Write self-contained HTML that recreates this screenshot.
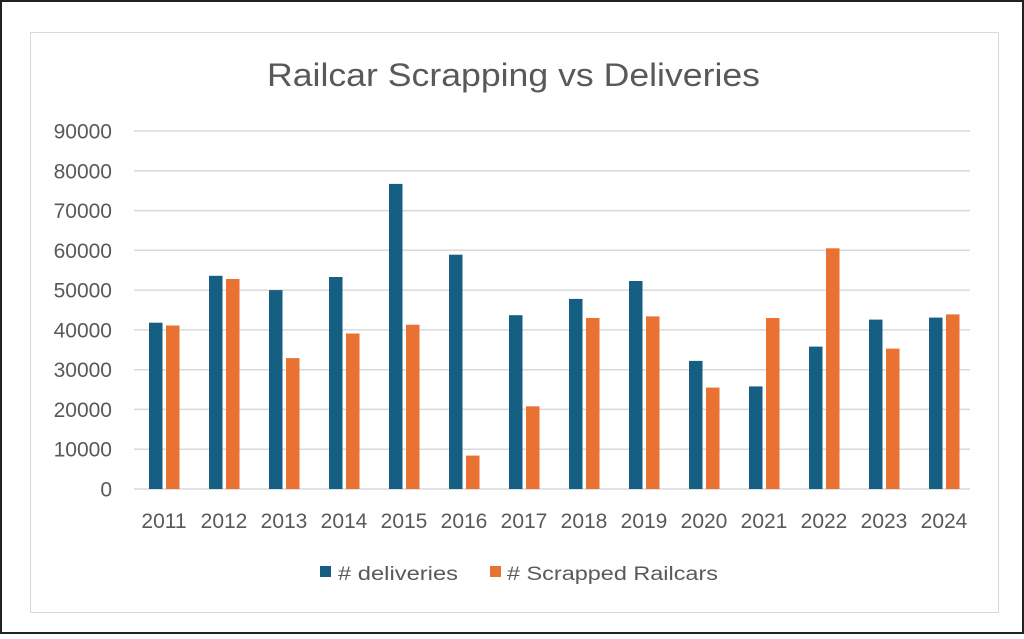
<!DOCTYPE html>
<html><head><meta charset="utf-8"><style>
body{margin:0;background:#fff}
</style></head><body>
<svg width="1024" height="634" xmlns="http://www.w3.org/2000/svg" font-family="Liberation Sans, sans-serif">
<rect x="1" y="1" width="1022" height="632" fill="#fff" stroke="#222" stroke-width="2"/>
<rect x="30.5" y="32.5" width="968" height="580" fill="#fff" stroke="#d9d9d9" stroke-width="1"/>
<text x="267" y="86" font-size="32" fill="#595959" textLength="493" lengthAdjust="spacingAndGlyphs">Railcar Scrapping vs Deliveries</text>
<g stroke="#d9d9d9" stroke-width="1.5">
<line x1="134" x2="970" y1="489" y2="489"/>
<line x1="134" x2="970" y1="449.2" y2="449.2"/>
<line x1="134" x2="970" y1="409.4" y2="409.4"/>
<line x1="134" x2="970" y1="369.7" y2="369.7"/>
<line x1="134" x2="970" y1="329.9" y2="329.9"/>
<line x1="134" x2="970" y1="290.1" y2="290.1"/>
<line x1="134" x2="970" y1="250.3" y2="250.3"/>
<line x1="134" x2="970" y1="210.6" y2="210.6"/>
<line x1="134" x2="970" y1="170.8" y2="170.8"/>
<line x1="134" x2="970" y1="131" y2="131"/>
</g>
<g font-size="21" fill="#595959" text-anchor="end">
<text x="112" y="496.5">0</text>
<text x="112" y="456.7">10000</text>
<text x="112" y="416.9">20000</text>
<text x="112" y="377.2">30000</text>
<text x="112" y="337.4">40000</text>
<text x="112" y="297.6">50000</text>
<text x="112" y="257.8">60000</text>
<text x="112" y="218.1">70000</text>
<text x="112" y="178.3">80000</text>
<text x="112" y="138.5">90000</text>
</g>
<g fill="#156082">
<rect x="149" y="322.7" width="13.5" height="166.3"/>
<rect x="209" y="275.8" width="13.5" height="213.2"/>
<rect x="269" y="290.1" width="13.5" height="198.9"/>
<rect x="329" y="277" width="13.5" height="212"/>
<rect x="389" y="183.9" width="13.5" height="305.1"/>
<rect x="449" y="254.7" width="13.5" height="234.3"/>
<rect x="509" y="315.2" width="13.5" height="173.8"/>
<rect x="569" y="298.9" width="13.5" height="190.1"/>
<rect x="629" y="281" width="13.5" height="208"/>
<rect x="689" y="360.9" width="13.5" height="128.1"/>
<rect x="749" y="386.4" width="13.5" height="102.6"/>
<rect x="809" y="346.6" width="13.5" height="142.4"/>
<rect x="869" y="319.6" width="13.5" height="169.4"/>
<rect x="929" y="317.6" width="13.5" height="171.4"/>
</g>
<g fill="#E97132">
<rect x="166" y="325.5" width="13.5" height="163.5"/>
<rect x="226" y="279" width="13.5" height="210"/>
<rect x="286" y="358.1" width="13.5" height="130.9"/>
<rect x="346" y="333.5" width="13.5" height="155.5"/>
<rect x="406" y="324.7" width="13.5" height="164.3"/>
<rect x="466" y="455.6" width="13.5" height="33.4"/>
<rect x="526" y="406.3" width="13.5" height="82.7"/>
<rect x="586" y="318" width="13.5" height="171"/>
<rect x="646" y="316.4" width="13.5" height="172.6"/>
<rect x="706" y="387.6" width="13.5" height="101.4"/>
<rect x="766" y="318" width="13.5" height="171"/>
<rect x="826" y="248.3" width="13.5" height="240.7"/>
<rect x="886" y="348.6" width="13.5" height="140.4"/>
<rect x="946" y="314.4" width="13.5" height="174.6"/>
</g>
<g font-size="21" fill="#595959" text-anchor="middle">
<text x="164" y="528">2011</text><text x="224" y="528">2012</text><text x="284" y="528">2013</text>
<text x="344" y="528">2014</text><text x="404" y="528">2015</text><text x="464" y="528">2016</text>
<text x="524" y="528">2017</text><text x="584" y="528">2018</text><text x="644" y="528">2019</text>
<text x="704" y="528">2020</text><text x="764" y="528">2021</text><text x="824" y="528">2022</text>
<text x="884" y="528">2023</text><text x="944" y="528">2024</text>
</g>
<rect x="320" y="566" width="11" height="11" fill="#156082"/>
<text x="338" y="580" font-size="19" fill="#595959" textLength="120" lengthAdjust="spacingAndGlyphs"># deliveries</text>
<rect x="490" y="566" width="11" height="11" fill="#E97132"/>
<text x="507" y="580" font-size="19" fill="#595959" textLength="211" lengthAdjust="spacingAndGlyphs"># Scrapped Railcars</text>
</svg>
</body></html>
